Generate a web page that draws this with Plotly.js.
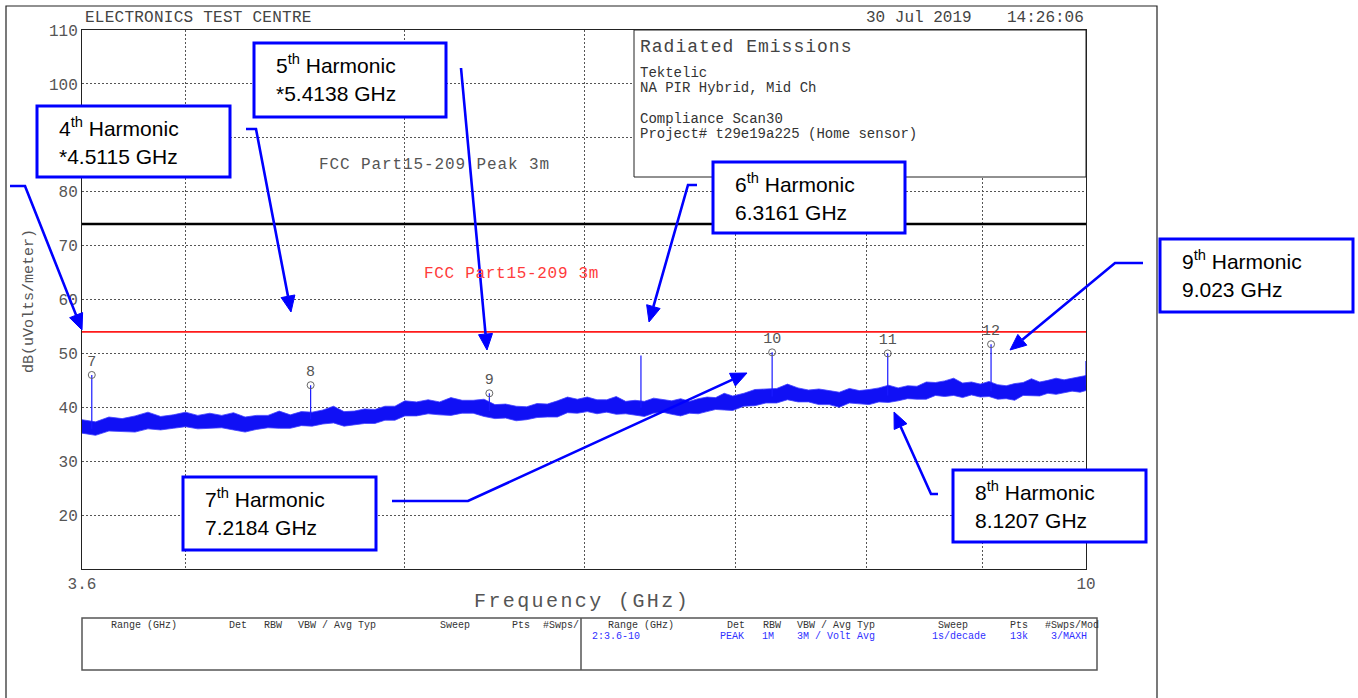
<!DOCTYPE html>
<html><head><meta charset="utf-8">
<script src="https://cdn.plot.ly/plotly-3.0.1.min.js"></script>
<style>html,body{margin:0;padding:0;background:#fff;} #chart{width:1358px;height:698px;}</style>
</head><body><div id="chart"></div>
<script>
// ---------------- DATA ----------------
const freqGHz = [3.60,3.65,3.70,3.75,3.80,3.85,3.90,3.95,4.00,4.05,4.10,4.15,4.20,4.25,4.30,4.35,4.40,4.45,4.50,4.55,4.60,4.65,4.70,4.75,4.80,4.85,4.90,4.95,5.00,
  5.06,5.12,5.18,5.24,5.30,5.36,5.42,5.48,5.54,5.60,5.66,5.72,5.78,5.84,5.90,5.96,6.02,6.08,6.14,6.20,6.26,6.32,6.38,6.44,6.50,6.56,6.62,6.68,6.74,6.80,6.86,6.92,6.98,
  7.06,7.14,7.22,7.30,7.38,7.46,7.54,7.62,7.70,7.78,7.86,7.94,8.02,8.10,8.18,8.26,8.34,8.42,8.50,8.58,8.66,8.74,8.82,8.90,8.98,9.06,9.14,9.22,9.30,9.38,9.46,9.54,9.62,9.70,9.78,9.86,9.94,10.0];
const traceUpper = [37.7,37.3,38.2,37.9,38.4,39.1,38.3,38.6,39.1,38.5,38.9,38.5,39.0,38.2,38.5,38.5,39.3,38.6,39.2,39.1,39.5,40.2,39.2,39.3,39.7,39.6,40.2,40.2,41.2,
  41.0,41.4,41.0,41.8,41.3,41.3,41.5,40.5,40.6,40.2,40.1,40.7,40.6,41.2,41.9,41.5,41.9,41.4,41.4,42.0,41.1,41.3,41.1,41.7,41.4,41.2,41.6,41.1,41.6,41.9,41.8,42.6,42.1,
  42.6,43.3,43.4,43.5,44.3,43.6,43.2,43.4,43.1,42.8,43.5,43.1,43.3,43.6,44.1,43.6,44.0,43.9,44.7,44.6,44.9,45.4,44.5,44.7,44.3,44.8,44.2,44.0,44.4,44.6,45.3,44.7,45.0,45.4,45.1,45.4,45.6,45.9];
const traceLower = [35.2,34.8,35.6,35.5,35.4,36.0,35.8,36.1,36.4,36.0,36.1,36.2,35.8,35.4,35.9,36.2,36.1,36.1,36.6,36.5,36.9,37.1,36.5,36.7,37.0,37.0,37.6,37.6,38.4,
  38.4,38.8,38.6,38.5,38.9,38.9,38.3,37.9,38.0,37.5,37.7,38.1,38.2,38.2,39.0,38.9,39.2,38.8,39.1,38.7,38.8,38.5,38.3,38.9,39.1,38.7,38.4,38.9,38.8,39.2,39.6,39.5,39.4,
  40.2,40.3,40.8,40.8,41.4,41.0,41.0,40.5,40.5,40.0,40.8,40.7,40.5,41.0,40.9,41.2,41.6,41.5,41.5,42.2,42.0,42.2,41.8,42.3,41.9,42.0,41.5,41.6,41.3,42.2,42.1,42.1,42.6,42.4,42.7,43.0,42.8,43.1];
const spikeFreq = [3.636, 4.543, 5.449, 6.358, 7.266, 8.173, 9.079, 10.0];
const spikePeak = [46.0, 44.1, 42.6, 49.6, 50.2, 50.0, 51.7, 48.6];
const spikeBase = [36.0, 37.8, 39.3, 39.9, 42.0, 42.2, 43.0, 44.0];
const markerFreq  = [3.636, 4.543, 5.449, 7.266, 8.173, 9.079];
const markerLevel = [46.0, 44.1, 42.6, 50.2, 50.0, 51.7];
const markerLabel = ["7","8","9","10","11","12"];
const limitFreq = [3.6, 10];
const limitPeak = [74, 74];
const limitAvg  = [54, 54];
const yTicks = [20,30,40,50,60,70,80,90,100,110];
const xTicks = [3.6,10];
const xTickText = ["3.6","10"];
const xGrid = [4,5,6,7,8,9];
const harmonicTitle = ["4<sup>th</sup> Harmonic","5<sup>th</sup> Harmonic","6<sup>th</sup> Harmonic","7<sup>th</sup> Harmonic","8<sup>th</sup> Harmonic","9<sup>th</sup> Harmonic"];
const harmonicFreqText = ["*4.5115 GHz","*5.4138 GHz","6.3161 GHz","7.2184 GHz","8.1207 GHz","9.023 GHz"];
const infoLines = ["Tektelic","NA PIR Hybrid, Mid Ch","Compliance Scan30","Project# t29e19a225 (Home sensor)"];
const tableHead = ["Range (GHz)","Det","RBW","VBW / Avg Typ","Sweep","Pts","#Swps/"];
const tableHead2 = ["Range (GHz)","Det","RBW","VBW / Avg Typ","Sweep","Pts","#Swps/Mod"];
const tableVals = ["2:3.6-10","PEAK","1M","3M / Volt Avg","1s/decade","13k","3/MAXH"];

// ---------------- LAYOUT HELPERS ----------------
const PL=82, PR=1086, PT=30, PB=569;
const X = p => (p-PL)/(PR-PL);
const Y = p => (PB-p)/(PB-PT);
const MONO = 'Liberation Mono, DejaVu Sans Mono, monospace';
const SANS = 'Liberation Sans, Arial, sans-serif';
const BLUE = '#0000ff';
const ann = [], spacing = [], shapes = [];
function txt(s, px, py, font, o, ls){
  ann.push(Object.assign({text:s, xref:'paper', yref:'paper', x:X(px), y:Y(py), xanchor:'left', yanchor:'middle', align:'left', showarrow:false, font:font, borderpad:0}, o||{}));
  spacing.push(ls||0);
}
function rect(x0,y0,x1,y1,color,width,fill){
  shapes.push({type:'rect', xref:'paper', yref:'paper', x0:X(x0), x1:X(x1), y0:Y(y1), y1:Y(y0), line:{color:color,width:width}, fillcolor:fill||'rgba(0,0,0,0)', layer:'above'});
}
function line(pts,color,width){
  shapes.push({type:'path', xref:'paper', yref:'paper', path:'M'+pts.map(p=>X(p[0])+','+Y(p[1])).join('L'), line:{color:color,width:width}, layer:'above'});
}
function arrow(pts){
  const n=pts.length, [tx,ty]=pts[n-1], [px,py]=pts[n-2];
  const dx=tx-px, dy=ty-py, d=Math.hypot(dx,dy), ux=dx/d, uy=dy/d;
  const Lh=16, Wh=7, bx=tx-ux*Lh, by=ty-uy*Lh;
  line(pts.slice(0,n-1).concat([[bx,by]]), BLUE, 2.6);
  shapes.push({type:'path', xref:'paper', yref:'paper',
    path:`M${X(tx)},${Y(ty)}L${X(bx-uy*Wh)},${Y(by+ux*Wh)}L${X(bx+uy*Wh)},${Y(by-ux*Wh)}Z`,
    fillcolor:BLUE, line:{color:BLUE,width:1}, layer:'above'});
}

// outer frame
line([[6,705],[6,6],[1157,6],[1157,705]], '#222', 1.2);
// info box
rect(634,30,1086,177,'#222',1,'#fff');
// table
rect(82,618,1097,670,'#555',1.5);
line([[581,618],[581,670]], '#555', 1.5);

// harmonic boxes
const boxPos = [[37,106,230,177],[254,43,446,117],[713,162,905,233],[183,477,376,550],[953,470,1146,542],[1160,239,1353,312]];
const boxFont = {family:SANS, size:21, color:'#000'};
boxPos.forEach((b,i)=>{
  rect(b[0],b[1],b[2],b[3],BLUE,3,'#fff');
  txt(harmonicTitle[i], b[0]+21, b[1]+21, boxFont);
  txt(harmonicFreqText[i], b[0]+21, b[1]+50, boxFont);
});
// arrows
arrow([[10,186],[25,186],[82,330]]);
arrow([[246,129],[256,129],[291,312]]);
arrow([[461,68],[487,350]]);
arrow([[697,185],[688,185],[649,322]]);
arrow([[392,501],[468,501],[747,373]]);
arrow([[938,494],[931,494],[894,412]]);
arrow([[1143,263],[1115,263],[1010,350]]);

// texts
const gray = '#444';
txt('ELECTRONICS TEST CENTRE', 84, 18, {family:MONO,size:16,color:gray}, null, 0.25);
txt('30 Jul 2019', 865, 18, {family:MONO,size:16,color:gray});
txt('14:26:06', 1085, 18, {family:MONO,size:16,color:gray}, {xanchor:'right', align:'right'});
txt('Radiated Emissions', 639, 47, {family:MONO,size:18,color:gray}, null, 1.0);
const infoY = [73,88,119,134];
infoLines.forEach((s,i)=>txt(s, 639, infoY[i], {family:MONO,size:14,color:'#333'}));
txt('FCC Part15-209 Peak 3m', 318, 165, {family:MONO,size:16,color:'#555'}, null, 0.9);
txt('FCC Part15-209 3m', 423, 274, {family:MONO,size:16,color:'#ff3b3b'}, null, 0.7);
txt('Frequency (GHz)', 473, 601, {family:MONO,size:20,color:'#555'}, null, 2.4);
txt('dB(uVolts/meter)', 29, 301, {family:MONO,size:15,color:'#555'}, {textangle:-90, xanchor:'center', align:'center'});
const headX1 = [110,228,263,297,439,511,542];
const headX2 = [607,726,762,796,937,1009,1044];
const valX = [591,719,761,796,931,1009,1050];
tableHead.forEach((s,i)=>txt(s, headX1[i], 625, {family:MONO,size:10,color:'#333'}));
tableHead2.forEach((s,i)=>txt(s, headX2[i], 625, {family:MONO,size:10,color:'#333'}));
tableVals.forEach((s,i)=>txt(s, valX[i], 636, {family:MONO,size:10,color:'#3030ff'}));

// ---------------- TRACES ----------------
const sx=[], sy=[];
spikeFreq.forEach((f,i)=>{ sx.push(f,f,null); sy.push(spikeBase[i], spikePeak[i], null); });
const data = [
  {x:limitFreq, y:limitAvg, mode:'lines', line:{color:'#ff1a1a', width:1.6}, hoverinfo:'skip'},
  {x:limitFreq, y:limitPeak, mode:'lines', line:{color:'#000', width:2.6}, hoverinfo:'skip'},
  {x:freqGHz, y:traceLower, mode:'lines', line:{color:'#4040ff', width:0.8}, hoverinfo:'skip'},
  {x:freqGHz, y:traceUpper, mode:'lines', fill:'tonexty', fillcolor:'rgb(16,16,245)', line:{color:'#4040ff', width:0.8}, hoverinfo:'skip'},
  {x:sx, y:sy, mode:'lines', line:{color:'#1a1aff', width:1.2}, connectgaps:false, hoverinfo:'skip'},
  {x:markerFreq, y:markerLevel, mode:'markers+text', text:markerLabel, textposition:'top center',
   textfont:{family:MONO, size:15, color:'#555'},
   marker:{symbol:'circle-open', size:7, color:'#666', line:{width:1, color:'#666'}}, cliponaxis:false, hoverinfo:'skip'}
];
const gridStyle = {showgrid:true, gridcolor:'#555', griddash:'2px,2px', gridwidth:1};
const axisCommon = Object.assign({showline:true, mirror:true, linecolor:'#222', linewidth:1, ticks:'', zeroline:false,
  tickfont:{family:MONO, size:16, color:'#555'}}, gridStyle);
const layout = {
  width:1358, height:698, margin:{l:PL, r:1358-PR, t:PT, b:698-PB, pad:0},
  paper_bgcolor:'#fff', plot_bgcolor:'#fff', showlegend:false,
  xaxis:Object.assign({type:'log', range:[Math.log10(3.6), 1], tickmode:'array', tickvals:xTicks, ticktext:xTickText,
    minor:Object.assign({tickmode:'array', tickvals:xGrid, ticks:''}, gridStyle)}, axisCommon),
  yaxis:Object.assign({range:[10,110], tickmode:'array', tickvals:yTicks}, axisCommon),
  shapes:shapes, annotations:ann
};
Plotly.newPlot('chart', data, layout, {staticPlot:true}).then(()=>{
  document.querySelectorAll('#chart .annotation').forEach(g=>{
    const i = +g.getAttribute('data-index');
    if (spacing[i]) g.querySelectorAll('text').forEach(t=>t.style.letterSpacing = spacing[i]+'px');
  });
});
</script></body></html>
